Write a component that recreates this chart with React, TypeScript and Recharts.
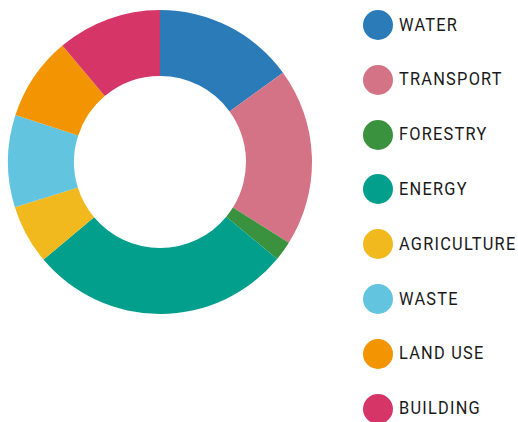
import React from "react";
import { PieChart, Pie, Cell, Legend } from "recharts";

const categories = ["WATER", "TRANSPORT", "FORESTRY", "ENERGY", "AGRICULTURE", "WASTE", "LAND USE", "BUILDING"];
const values = [15.0, 18.9, 2.1, 27.9, 6.3, 9.8, 8.9, 11.1];
const colors = ["#2C7BB9", "#D57386", "#3A923E", "#029F8C", "#F2B91F", "#62C4DE", "#F39402", "#D63667"];

const data = categories.map((name, i) => ({ name, value: values[i] }));

const renderLegend = () => (
  <div style={{ position: "relative", width: 160, height: 422 }}>
    {categories.map((name, i) => (
      <div
        key={name}
        style={{
          position: "absolute",
          left: 0,
          top: 25 + 54.8 * i - 15,
          height: 30,
          display: "flex",
          alignItems: "center",
        }}
      >
        <div style={{ width: 30, height: 30, borderRadius: 15, background: colors[i], flexShrink: 0 }} />
        <span
          style={{
            marginLeft: 6,
            fontFamily: "Roboto, sans-serif",
            fontSize: 19,
            letterSpacing: 1.45,
            color: "#1a1a1a",
            whiteSpace: "nowrap",
            display: "inline-block",
            transform: "scaleX(0.86)",
            transformOrigin: "left center",
            marginTop: -2,
          }}
        >
          {name}
        </span>
      </div>
    ))}
  </div>
);

export default function App() {
  return (
    <div style={{ position: "absolute", left: 0, top: 0, width: 518, height: 422, background: "#fff" }}>
      <PieChart width={518} height={422} margin={{ top: 0, right: 0, bottom: 0, left: 0 }}>
        <Pie
          data={data}
          dataKey="value"
          nameKey="name"
          cx={160}
          cy={162}
          innerRadius={86}
          outerRadius={152}
          startAngle={90}
          endAngle={-270}
          stroke="none"
          isAnimationActive={false}
        >
          {data.map((d, i) => (
            <Cell key={d.name} fill={colors[i]} />
          ))}
        </Pie>
        <Legend
          content={renderLegend}
          layout="vertical"
          wrapperStyle={{ position: "absolute", left: 363, top: 0, width: 160, height: 422 }}
        />
      </PieChart>
    </div>
  );
}
